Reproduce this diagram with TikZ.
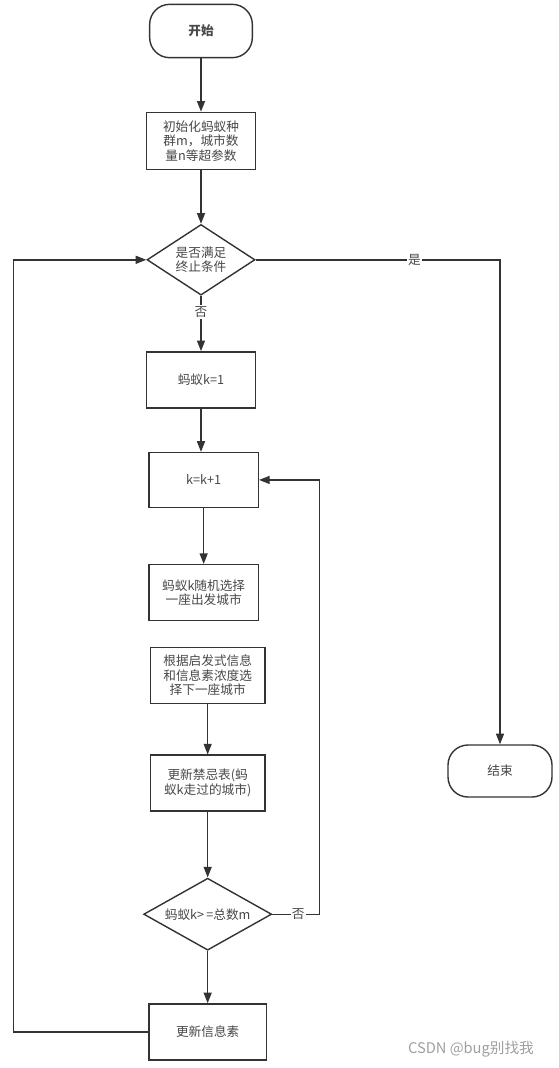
\documentclass[tikz,border=0pt]{standalone}
\usepackage{fontspec}
\setmainfont{Noto Sans CJK SC}
\usepackage{tikz}
\usetikzlibrary{arrows.meta,positioning,shapes.geometric}
\definecolor{lineC}{HTML}{333333}
\definecolor{textC}{HTML}{484848}
\definecolor{markC}{HTML}{A0A0A0}

\begin{document}
\begin{tikzpicture}[x=0.75pt, y=-0.75pt, font=\fontsize{9.5pt}{11pt}\selectfont, line width=1.05pt, draw=lineC, text=textC,
  >={Triangle[length=8pt,width=6pt]},
  box/.style={draw=lineC, align=center, minimum width=82pt, minimum height=42pt, inner sep=2pt},
  term/.style={draw=lineC, rounded corners=15pt, minimum width=77pt, minimum height=40pt},
  decide/.style={draw=lineC, diamond, inner sep=0pt, minimum width=81pt, minimum height=53pt},
  lbl/.style={fill=white, inner sep=1pt, text=textC}]
\fill[white] (0,0) rectangle (559,1068);
\node[term] (start) at (201,31) {\bfseries 开始};
\node[box, minimum height=43pt, below=40pt of start] (init) {初始化蚂蚁种\\群m，城市数\\量n等超参数};
\node[decide, below=40pt of init, label={[align=center, text=textC]center:是否满足\\终止条件}] (cond1) {};
\node[box, below=41.5pt of cond1] (ant1) {蚂蚁k=1};
\node[box, minimum height=41pt, below=32.5pt of ant1, xshift=2pt] (kinc) {k=k+1};
\node[box, below=42pt of kinc] (pick) {蚂蚁k随机选择\\一座出发城市};
\node[box, minimum width=86pt, below=19pt of pick, xshift=3pt] (choose) {根据启发式信息\\和信息素浓度选\\择下一座城市};
\node[box, minimum width=86pt, below=37.75pt of choose] (tabu) {更新禁忌表(蚂\\蚁k走过的城市)};
\node[decide, minimum width=96pt, minimum height=54pt, below=49.25pt of tabu, label={center:蚂蚁k>\,=总数m}] (cond2) {};
\node[box, minimum width=88pt, below=39.25pt of cond2] (phero) {更新信息素};
\node[term, minimum width=78pt, minimum height=39pt] (stop) at (500,771) {结束};
\node[text=markC, font=\fontsize{11pt}{13pt}\selectfont] (mark) at (471,1049) {CSDN @bug别找我};

\draw[->] (start) -- (start |- init.north);
\draw[->] (init) -- (init |- cond1.north);
\draw[->] (cond1) -- node[lbl, pos=0.29] {否} (cond1 |- ant1.north);
\draw[->] (cond1.east) -- node[lbl, pos=0.65] {是} (cond1.east -| stop) -- (stop.north);
\draw[->] (ant1) -- (ant1 |- kinc.north);
\draw[->] (kinc) -- (kinc |- pick.north);
\draw[->] (choose) -- (choose |- tabu.north);
\draw[->] (tabu) -- (tabu |- cond2.north);
\draw[->] (cond2) -- (cond2 |- phero.north);
\draw[->] (cond2.east) -- node[lbl, pos=0.55] {否} ++(47,0) |- (kinc.east);
\draw[->] (phero.west) -- ++(-135,0) |- (cond1.west);
\end{tikzpicture}
\end{document}
